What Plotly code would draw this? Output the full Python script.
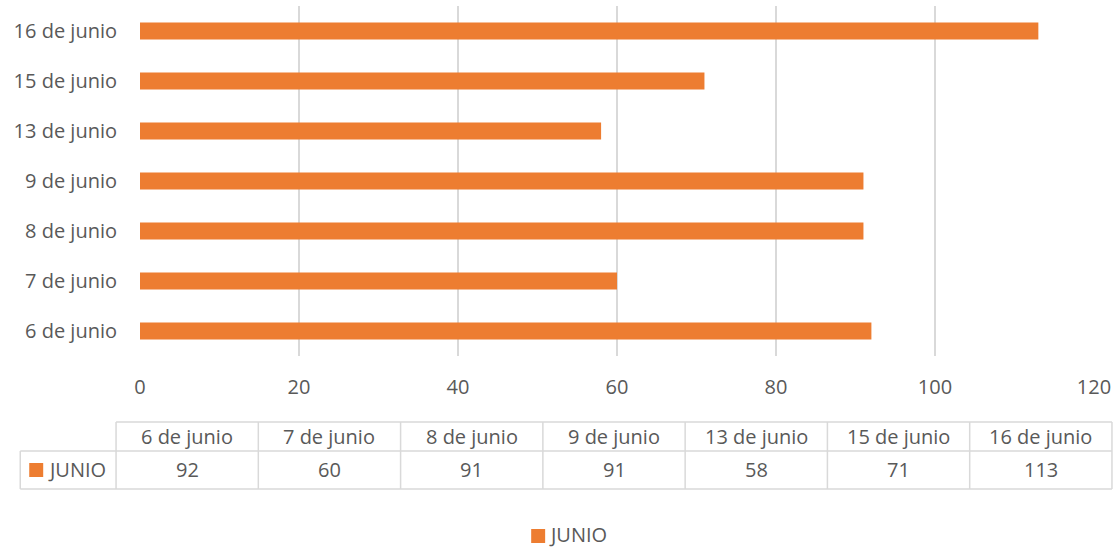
import plotly.graph_objects as go

categories = ["6 de junio", "7 de junio", "8 de junio", "9 de junio", "13 de junio", "15 de junio", "16 de junio"]
values = [92, 60, 91, 91, 58, 71, 113]
series_name = "JUNIO"
x_ticks = [0, 20, 40, 60, 80, 100, 120]

W, H = 1117, 550
L, R, T, B = 140, 1096, 6, 356
ORANGE = "#ED7D31"
TXT = "#595959"
GRID = "#D9D9D9"
FONT = "Open Sans"
FS = 20

def px(x):
    return (x - L) / (R - L)

def py(y):
    return (B - y) / (B - T)

fig = go.Figure()
fig.add_trace(go.Bar(
    y=categories, x=values, orientation="h", name=series_name,
    marker=dict(color=ORANGE, line=dict(width=0)), showlegend=False,
))

shapes = []
annotations = []
line_style = dict(color=GRID, width=1.5)

# data table geometry
tbl_left, col0_right, tbl_right = 20, 116, 1114
row_top, row_mid, row_bot = 422, 451, 489
n = len(categories)
colw = (tbl_right - col0_right) / n
shapes.append(dict(type="line", xref="paper", yref="paper", x0=px(col0_right), x1=px(tbl_right), y0=py(row_top), y1=py(row_top), line=line_style))
shapes.append(dict(type="line", xref="paper", yref="paper", x0=px(tbl_left), x1=px(tbl_right), y0=py(row_mid), y1=py(row_mid), line=line_style))
shapes.append(dict(type="line", xref="paper", yref="paper", x0=px(tbl_left), x1=px(tbl_right), y0=py(row_bot), y1=py(row_bot), line=line_style))
shapes.append(dict(type="line", xref="paper", yref="paper", x0=px(tbl_left), x1=px(tbl_left), y0=py(row_mid), y1=py(row_bot), line=line_style))
for i in range(n + 1):
    xx = col0_right + i * colw
    shapes.append(dict(type="line", xref="paper", yref="paper", x0=px(xx), x1=px(xx), y0=py(row_top), y1=py(row_bot), line=line_style))

for i, (c, v) in enumerate(zip(categories, values)):
    cx = col0_right + (i + 0.5) * colw
    annotations.append(dict(x=px(cx), y=py((row_top + row_mid) / 2), xref="paper", yref="paper", text=c,
                            showarrow=False, font=dict(family=FONT, size=FS, color=TXT), xanchor="center", yanchor="middle"))
    annotations.append(dict(x=px(cx), y=py((row_mid + row_bot) / 2), xref="paper", yref="paper", text=str(v),
                            showarrow=False, font=dict(family=FONT, size=FS, color=TXT), xanchor="center", yanchor="middle"))

# legend key in table
shapes.append(dict(type="rect", xref="paper", yref="paper", x0=px(29), x1=px(43), y0=py(463), y1=py(477),
                   fillcolor=ORANGE, line=dict(width=0)))
annotations.append(dict(x=px(46), y=py(470), xref="paper", yref="paper", text=series_name, showarrow=False,
                        font=dict(family=FONT, size=FS, color=TXT), xanchor="left", yanchor="middle"))

# bottom legend
shapes.append(dict(type="rect", xref="paper", yref="paper", x0=px(532), x1=px(546), y0=py(529), y1=py(543),
                   fillcolor=ORANGE, line=dict(width=0)))
annotations.append(dict(x=px(549), y=py(549), xref="paper", yref="paper", text=series_name, showarrow=False,
                        font=dict(family=FONT, size=FS, color=TXT), xanchor="left", yanchor="bottom", borderpad=0))

fig.update_layout(
    width=W, height=H,
    margin=dict(l=L, r=W - R, t=T, b=H - B, pad=0),
    paper_bgcolor="white", plot_bgcolor="white",
    bargap=0.66,
    font=dict(family=FONT, size=FS, color=TXT),
    showlegend=False,
    xaxis=dict(range=[0, 120], tickvals=x_ticks, showgrid=True, gridcolor=GRID, gridwidth=1.5,
               zeroline=False, showline=False, ticks="", ticklabelstandoff=17,
               tickfont=dict(family=FONT, size=FS, color=TXT), fixedrange=True),
    yaxis=dict(categoryorder="array", categoryarray=categories, showgrid=False, zeroline=False,
               showline=False, ticks="", ticklabelstandoff=22,
               tickfont=dict(family=FONT, size=FS, color=TXT), fixedrange=True),
    shapes=shapes, annotations=annotations,
)

fig.write_html("out.html", config={"displayModeBar": False},
               post_script="document.body.style.margin='0px';document.body.style.overflow='hidden';")
